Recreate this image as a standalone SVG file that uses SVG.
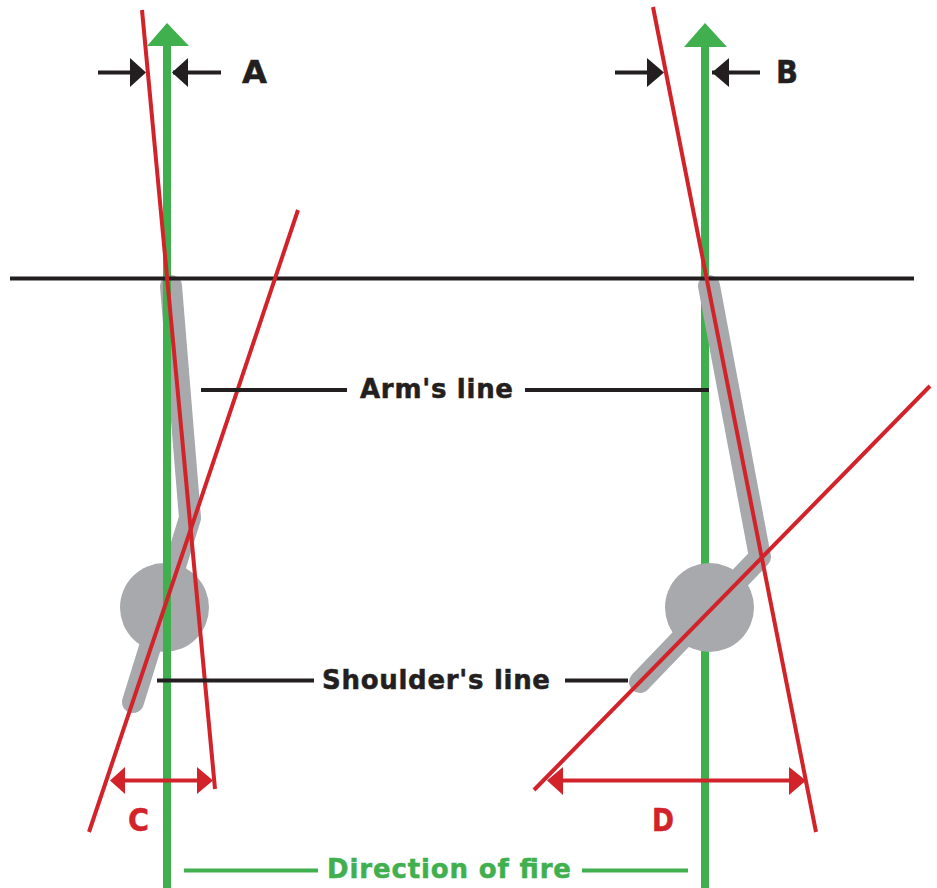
<svg xmlns="http://www.w3.org/2000/svg" width="937" height="888" viewBox="0 0 937 888">
<style>
.g{stroke:#40b04f;fill:none}
.r{stroke:#d2232a;stroke-width:4;fill:none}
.k{stroke:#231f20;stroke-width:4;fill:none}
.a{stroke:#a7a9ac;stroke-width:22;fill:none;stroke-linecap:round;stroke-linejoin:round}
.t{font-family:"DejaVu Sans","Liberation Sans",sans-serif;font-weight:700;stroke-width:.5}
</style>
<rect width="937" height="888" fill="#fff"/>
<g id="body-left">
<path class="a" d="M171 286L190 518L133 702"/>
<circle cx="164.500" cy="607.500" r="44.500" fill="#a7a9ac"/>
</g>
<g id="axis-right"><path class="g" stroke-width="8" d="M705 45V888"/><path d="M684 47L705 23L727 47Z" fill="#40b04f"/></g>
<g id="axis-left"><path class="g" stroke-width="8" d="M167 45V888"/><path d="M147 46L167 23L189 46Z" fill="#40b04f"/></g>
<g id="body-right">
<path class="a" d="M709 286L760 557L640 682"/>
<circle cx="709.500" cy="607.500" r="44.500" fill="#a7a9ac"/>
</g>
<g id="connectors">
<path class="k" d="M10 278.500H914"/>
<path class="r" d="M142 10L215 789"/>
<path class="r" d="M298 210L89 832"/>
<path class="r" d="M653 7L816 832"/>
<path class="r" d="M930 386L534 790"/>
<path class="k" d="M98 72.500H132M173 72.500H221M615 72.500H648M712 72.500H760"/>
<path d="M130 58L146 72.500L130 87ZM188 58L172 72.500L188 87ZM647 58L664 72.500L647 87ZM729 58L712 72.500L729 87Z" fill="#231f20"/>
<path class="k" d="M201 390H347M525 390H709M157 680.500H314M565 680.500H628"/>
<path class="r" d="M120 780.500H202M560 780.500H792"/>
<path d="M125 767L110 780.500L125 794ZM197 767L213 780.500L197 794ZM563 767L547 780.500L563 795ZM789 767L806 780.500L789 795Z" fill="#d2232a"/>
<path class="g" stroke-width="4" d="M184 870.500H318M582 870.500H688"/>
</g>
<g id="labels">
<text class="t" x="242" y="83" font-size="32" textLength="25" lengthAdjust="spacingAndGlyphs" fill="#231f20" stroke="#231f20">A</text>
<text class="t" x="776" y="83" font-size="32" textLength="22" lengthAdjust="spacingAndGlyphs" fill="#231f20" stroke="#231f20">B</text>
<text class="t" x="128" y="831" font-size="32" textLength="21" lengthAdjust="spacingAndGlyphs" fill="#d2232a" stroke="#d2232a">C</text>
<text class="t" x="652" y="831" font-size="32" textLength="22" lengthAdjust="spacingAndGlyphs" fill="#d2232a" stroke="#d2232a">D</text>
<text class="t" x="360" y="398" font-size="26" textLength="153" fill="#231f20" stroke="#231f20">Arm's line</text>
<text class="t" x="322" y="689" font-size="26" textLength="228" fill="#231f20" stroke="#231f20">Shoulder's line</text>
<text class="t" x="327" y="878" font-size="26" textLength="244" fill="#40b04f" stroke="#40b04f">Direction of fire</text>
</g>
</svg>
